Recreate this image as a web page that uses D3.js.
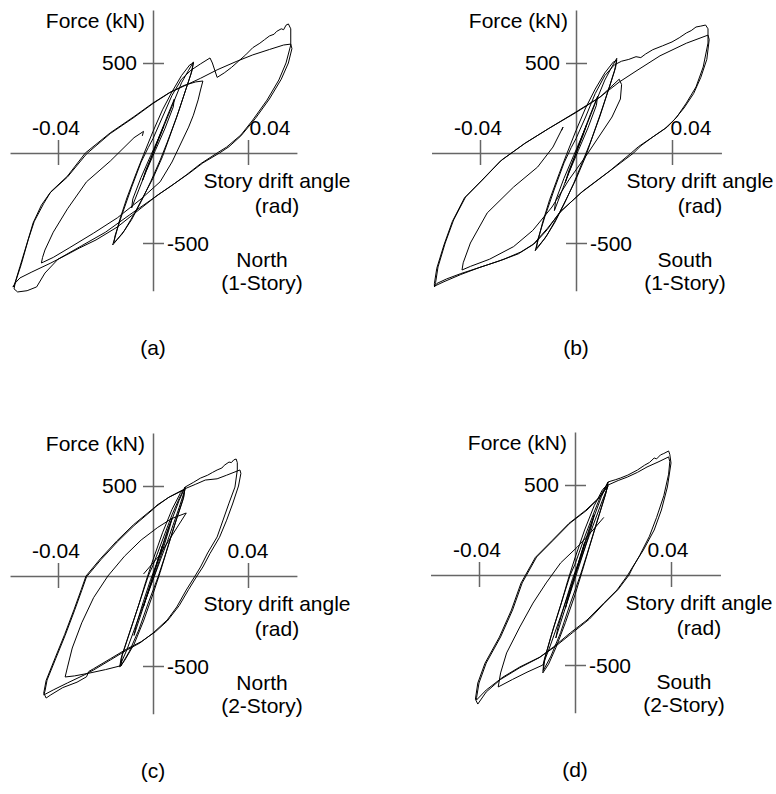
<!DOCTYPE html>
<html>
<head>
<meta charset="utf-8">
<script src="https://cdn.jsdelivr.net/npm/d3@7"></script>
<style>
body { margin: 0; background: #fff; }
svg text { font-family: "Liberation Sans", Arial, sans-serif; font-size: 21px; fill: #000; }
</style>
</head>
<body>
<svg id="chart" width="776" height="794"></svg>
<script>
// [story drift angle (rad), force (kN)]
const driftTicks = [-0.04, 0.04]
const forceTicks = [-500, 500]
const driftRange = [-0.0602, 0.0606]
const forceRange = [-765, 795]

const northOneSmall = [[0,0],[0.002,70],[0.0045,150],[0.003,95],[0,0],[-0.002,-70],[-0.0045,-155],[-0.003,-95],[0,0],
  [0.003,105],[0.006,205],[0.009,300],[0.0085,255],[0.005,135],[0.001,15],[-0.003,-105],[-0.006,-205],[-0.009,-305],[-0.0085,-255],[-0.005,-135],[-0.001,-15],
  [0.004,130],[0.008,260],[0.012,390],[0.015,460],[0.017,506],[0.0165,460],[0.014,360],[0.011,240],[0.007,90],[0.004,-20],[0,-140],[-0.004,-240],[-0.008,-340],[-0.012,-430],[-0.015,-480],[-0.017,-511],[-0.016,-470],[-0.014,-370],[-0.011,-250],[-0.007,-110],[-0.004,-10],
  [0,120],[0.004,240],[0.008,340],[0.012,430],[0.0155,490],[0.017,500],[0.016,440],[0.013,320],[0.010,200],[0.006,60],[0.003,-40],[-0.001,-160],[-0.005,-270],[-0.009,-370],[-0.013,-450],[-0.0165,-500],[-0.016,-460],[-0.013,-340],[-0.009,-190],[-0.005,-50],[-0.002,30],[0,80]]

const northOneLarge = [[0,80],[0.004,200],[0.008,320],[0.012,410],[0.016,460],[0.020,495],[0.024,528],[0.025,500],[0.026,460],[0.027,420],[0.030,445],[0.033,475],[0.036,510],[0.039,545],[0.042,585],[0.045,610],[0.047,630],[0.049,650],[0.051,660],[0.052,675],[0.054,690],[0.055,685],[0.056,710],[0.057,717],
  [0.058,690],[0.058,600],[0.056,500],[0.053,406],[0.048,294],[0.042,183],[0.037,100],[0.031,33],[0.027,0],
  [0.020,-60],[0.014,-122],[0.008,-180],[0.002,-233],[-0.005,-306],[-0.015,-411],[-0.024,-483],[-0.031,-528],[-0.037,-570],[-0.043,-611],[-0.051,-661],[-0.056,-694],[-0.058,-722],[-0.059,-744],
  [-0.0585,-740],[-0.056,-630],[-0.053,-500],[-0.0505,-389],[-0.047,-290],[-0.0434,-222],[-0.036,-133],[-0.028,-5],
  [-0.018,108],[-0.008,198],[0,275],[0.007,335],[0.014,378],[0.020,415],[0.027,462],[0.035,508],[0.042,545],[0.049,575],[0.055,600],[0.058,605],
  [0.0585,580],[0.057,500],[0.054,410],[0.049,300],[0.043,190],[0.037,95],[0.032,35],[0.028,0],
  [0.021,-55],[0.015,-115],[0.003,-225],[-0.010,-345],[-0.020,-440],[-0.030,-515],[-0.040,-590],[-0.0455,-667],[-0.049,-744],[-0.053,-765],[-0.057,-772],[-0.0585,-755],
  [-0.058,-720],[-0.0555,-620],[-0.0525,-480],[-0.050,-380],[-0.046,-280],[-0.043,-215],[-0.036,-128],[-0.0285,0],[-0.018,112],[-0.008,202],[0,278],[0.007,336],[0.013,375],[0.018,395],[0.021,400],
  [0.020,350],[0.019,295],[0.017,210],[0.015,144],[0.011,33],[0.008,-50],[0.003,-160],[-0.005,-255],[-0.015,-360],[-0.025,-445],[-0.035,-525],[-0.042,-580],[-0.046,-605],[-0.047,-611],
  [-0.0465,-580],[-0.0455,-539],[-0.042,-440],[-0.036,-310],[-0.028,-160],[-0.018,-45],[-0.008,85],[-0.004,120],[-0.0045,95]]

const southOneSmall = [[0,0],[0.002,75],[0.0045,160],[0.003,100],[0,0],[-0.002,-75],[-0.0045,-165],[-0.003,-100],[0,0],
  [0.003,110],[0.006,215],[0.009,315],[0.0085,265],[0.005,140],[0.001,15],[-0.003,-110],[-0.006,-215],[-0.009,-320],[-0.0085,-265],[-0.005,-140],[-0.001,-15],
  [0.004,140],[0.008,275],[0.012,405],[0.015,480],[0.017,526],[0.0165,475],[0.014,370],[0.011,250],[0.007,95],[0.004,-20],[0,-145],[-0.004,-255],[-0.008,-360],[-0.012,-455],[-0.015,-510],[-0.017,-543],[-0.016,-495],[-0.014,-390],[-0.011,-260],[-0.007,-115],[-0.004,-10],
  [0,125],[0.004,250],[0.008,355],[0.012,445],[0.0155,505],[0.017,515],[0.016,455],[0.013,330],[0.010,205],[0.006,60],[0.003,-40],[-0.001,-170],[-0.005,-285],[-0.009,-390],[-0.013,-475],[-0.0165,-530],[-0.016,-485],[-0.013,-355],[-0.009,-200],[-0.005,-55],[-0.002,30],[0,80]]

const southOneLarge = [[0,80],[0.004,200],[0.008,330],[0.012,430],[0.016,490],[0.019,510],[0.022,520],[0.025,535],[0.027,530],[0.029,550],[0.032,574],[0.036,595],[0.040,617],[0.043,640],[0.046,667],[0.048,680],[0.050,700],[0.052,705],[0.054,711],
  [0.055,690],[0.055,611],[0.053,478],[0.050,367],[0.046,278],[0.042,200],[0.038,144],[0.032,89],[0.027,40],[0.024,0],
  [0.013,-111],[0.002,-222],[-0.007,-333],[-0.012,-426],[-0.017,-500],[-0.023,-550],[-0.030,-590],[-0.037,-622],[-0.048,-670],[-0.054,-700],[-0.058,-725],[-0.059,-744],
  [-0.0585,-720],[-0.0575,-633],[-0.0545,-500],[-0.051,-372],[-0.046,-244],[-0.039,-150],[-0.031,-39],[-0.021,56],[-0.011,139],[0,228],[0.010,311],[0.018,394],[0.025,455],[0.035,540],[0.046,610],[0.055,655],
  [0.0555,630],[0.0545,520],[0.052,420],[0.049,330],[0.045,250],[0.041,185],[0.037,135],[0.031,80],[0.026,35],[0.023,0],
  [0.014,-100],[0.003,-210],[-0.006,-320],[-0.012,-420],[-0.018,-510],[-0.024,-560],[-0.032,-600],[-0.040,-635],[-0.048,-675],[-0.055,-715],[-0.059,-740],
  [-0.059,-725],[-0.058,-640],[-0.055,-510],[-0.0515,-380],[-0.0465,-250],[-0.0395,-155],[-0.0315,-45],[-0.0215,52],[-0.0115,135],[0,225],[0.010,310],[0.018,410],
  [0.019,380],[0.0185,300],[0.015,200],[0.010,100],[0.005,0],
  [-0.003,-150],[-0.010,-300],[-0.018,-430],[-0.026,-520],[-0.036,-590],[-0.044,-630],[-0.0475,-650],
  [-0.047,-610],[-0.044,-500],[-0.037,-333],[-0.026,-189],[-0.016,-78],[-0.0096,33],[-0.0054,144],[-0.006,125]]

const northTwoSmall = [[0,0],[0.002,90],[0.004,170],[0.003,120],[0,0],[-0.002,-90],[-0.004,-170],[-0.003,-120],[0,0],
  [0.003,130],[0.006,250],[0.008,320],[0.007,270],[0.004,140],[0.001,20],[-0.003,-130],[-0.006,-250],[-0.008,-330],[-0.007,-270],[-0.004,-140],[-0.001,-20],
  [0.003,120],[0.007,280],[0.011,420],[0.0135,494],[0.013,440],[0.010,320],[0.006,150],[0.003,20],[0,-100],[-0.004,-250],[-0.008,-380],[-0.012,-470],[-0.014,-506],[-0.0135,-460],[-0.010,-320],[-0.006,-160],[-0.003,-30],
  [0,90],[0.004,240],[0.008,370],[0.0115,460],[0.0135,490],[0.0125,420],[0.009,280],[0.005,110],[0.002,-10],[-0.002,-150],[-0.006,-300],[-0.010,-420],[-0.0135,-500],[-0.013,-440],[-0.009,-280],[-0.005,-120],[-0.002,0],[0,60]]

const northTwoLarge = [[0,60],[0.004,200],[0.008,340],[0.011,430],[0.0135,494],[0.017,520],[0.020,544],[0.023,560],[0.025,575],[0.027,589],[0.029,600],[0.030,615],[0.032,633],[0.033,630],[0.034,645],[0.035,650],
  [0.0355,630],[0.0355,589],[0.0345,494],[0.032,405],[0.0295,311],[0.027,217],[0.023,128],[0.020,50],[0.0177,0],
  [0.014,-78],[0.010,-172],[0.006,-244],[0,-317],[-0.0055,-372],[-0.011,-411],[-0.018,-467],[-0.025,-522],[-0.029,-550],[-0.036,-594],[-0.042,-633],[-0.046,-661],
  [-0.0455,-640],[-0.0446,-578],[-0.041,-460],[-0.037,-330],[-0.033,-190],[-0.030,-80],[-0.028,-5],[-0.022,90],[-0.015,190],[-0.008,280],[0,370],[0.0017,394],[0.007,440],[0.0135,485],[0.018,510],[0.022,533],[0.027,540],[0.031,560],[0.0366,589],
  [0.037,570],[0.036,500],[0.0335,400],[0.031,310],[0.028,215],[0.024,125],[0.021,50],[0.0185,0],
  [0.015,-75],[0.011,-165],[0.006,-250],[0.001,-310],[-0.005,-365],[-0.011,-405],[-0.018,-460],[-0.025,-515],[-0.027,-530],[-0.028,-560],[-0.032,-590],[-0.038,-620],[-0.043,-660],[-0.045,-678],
  [-0.046,-650],[-0.045,-580],[-0.0412,-455],[-0.0372,-325],[-0.0332,-185],[-0.0302,-75],[-0.0282,0],[-0.0222,95],[-0.0152,195],[-0.0082,285],[-0.0002,372],[0.0065,436],[0.0135,482],
  [0.011,380],[0.006,190],[0,-20],[-0.006,-230],[-0.011,-410],[-0.014,-500],[-0.020,-520],[-0.027,-540],[-0.033,-555],[-0.037,-561],
  [-0.036,-506],[-0.034,-400],[-0.030,-260],[-0.025,-120],[-0.019,0],[-0.012,110],[-0.005,200],[0.002,270],[0.008,320],[0.014,350],
  [0.0025,111],[-0.004,11]]

const southTwoSmall = [[0,0],[0.002,95],[0.004,180],[0.003,125],[0,0],[-0.002,-95],[-0.004,-185],[-0.003,-125],[0,0],
  [0.003,135],[0.006,260],[0.008,335],[0.007,280],[0.004,145],[0.001,20],[-0.003,-140],[-0.006,-265],[-0.008,-350],[-0.007,-285],[-0.004,-150],[-0.001,-20],
  [0.003,125],[0.007,290],[0.011,435],[0.0138,517],[0.013,460],[0.010,330],[0.006,155],[0.003,20],[0,-110],[-0.004,-265],[-0.008,-405],[-0.011,-495],[-0.0134,-544],[-0.013,-480],[-0.010,-340],[-0.006,-170],[-0.003,-30],
  [0,95],[0.004,250],[0.008,385],[0.0115,475],[0.0138,505],[0.0125,440],[0.009,290],[0.005,115],[0.002,-10],[-0.002,-160],[-0.006,-320],[-0.010,-450],[-0.0132,-530],[-0.0125,-460],[-0.009,-295],[-0.005,-125],[-0.002,0],[0,60]]

const southTwoLarge = [[0,60],[0.004,210],[0.008,350],[0.011,450],[0.0138,517],[0.017,530],[0.019,539],[0.022,555],[0.026,583],[0.029,610],[0.031,625],[0.033,650],[0.034,645],[0.0356,667],[0.037,675],[0.039,689],
  [0.0395,670],[0.040,622],[0.0385,489],[0.036,361],[0.033,250],[0.0285,139],[0.024,44],[0.022,0],
  [0.0175,-83],[0.012,-156],[0.005,-250],[-0.002,-322],[-0.009,-400],[-0.0146,-456],[-0.023,-511],[-0.030,-567],[-0.037,-639],[-0.041,-694],
  [-0.041,-680],[-0.040,-600],[-0.037,-489],[-0.031,-344],[-0.026,-194],[-0.022,-44],[-0.016,100],[-0.009,194],[-0.002,289],[0.005,361],[0.0105,433],[0.0138,500],[0.018,525],[0.0218,544],[0.026,570],[0.030,600],[0.035,630],[0.039,656],
  [0.0395,630],[0.039,560],[0.037,440],[0.034,320],[0.031,215],[0.027,110],[0.024,40],[0.0225,0],
  [0.018,-80],[0.012,-160],[0.006,-245],[-0.001,-320],[-0.008,-395],[-0.015,-460],[-0.023,-515],[-0.031,-580],[-0.037,-650],[-0.0405,-717],
  [-0.0415,-690],[-0.0405,-600],[-0.0375,-490],[-0.0315,-345],[-0.0265,-195],[-0.0225,-45],[-0.0165,98],[-0.0095,192],[-0.0025,287],[0.0045,360],[0.010,430],[0.0138,495],
  [0.011,400],[0.006,220],[0,0],[-0.006,-230],[-0.0105,-400],[-0.0134,-500],[-0.020,-540],[-0.026,-580],[-0.032,-622],
  [-0.031,-544],[-0.0285,-433],[-0.023,-289],[-0.0175,-156],[-0.012,-44],[-0.006,67],[0.001,156],[0.0075,250],[0.012,320]]

const panels = [
  { tag: '(a)', side: 'North', story: '(1-Story)', ox: 153, oy: 153, px: 95, lab04: 22, curves: [northOneSmall, northOneLarge] },
  { tag: '(b)', side: 'South', story: '(1-Story)', ox: 576, oy: 153, px: 96, lab04: 19, curves: [southOneSmall, southOneLarge] },
  { tag: '(c)', side: 'North', story: '(2-Story)', ox: 153, oy: 576, px: 95, lab04: 0, curves: [northTwoSmall, northTwoLarge] },
  { tag: '(d)', side: 'South', story: '(2-Story)', ox: 575, oy: 575, px: 96, lab04: -3, curves: [southTwoSmall, southTwoLarge] }
]

const svg = d3.select('#chart')

panels.forEach(p => {
  const g = svg.append('g')
  const x = d3.scaleLinear().domain([-0.04, 0.04]).range([p.ox - p.px, p.ox + p.px])
  const y = d3.scaleLinear().domain([-500, 500]).range([p.oy + 90, p.oy - 90])

  // axes cross at the origin, ticks cross the axis line
  const xAxisScale = d3.scaleLinear().domain(driftRange).range(driftRange.map(x))
  const yAxisScale = d3.scaleLinear().domain(forceRange).range(forceRange.map(y))

  const gx = g.append('g')
    .attr('transform', `translate(0,${y(0)})`)
    .call(d3.axisBottom(xAxisScale).tickValues(driftTicks).tickSizeInner(12).tickSizeOuter(0).tickFormat(''))
  gx.selectAll('.tick line').attr('y1', -13)

  const gy = g.append('g')
    .attr('transform', `translate(${x(0)},0)`)
    .call(d3.axisRight(yAxisScale).tickValues(forceTicks).tickSizeInner(11).tickSizeOuter(0).tickFormat(''))
  gy.selectAll('.tick line').attr('x1', -10)

  g.selectAll('.domain, .tick line').attr('stroke', '#666').attr('stroke-width', 1.5)

  const line = d3.line()
    .x(d => x(d[0]))
    .y(d => y(d[1]))

  g.selectAll('path.curve')
    .data(p.curves)
    .join('path')
    .attr('class', 'curve')
    .attr('d', line)
    .attr('fill', 'none')
    .attr('stroke', '#000')
    .attr('stroke-width', 1)
    .attr('stroke-linejoin', 'round')

  // labels
  g.append('text').attr('x', x(0) - 8).attr('y', y(0) - 125).attr('text-anchor', 'end').text('Force (kN)')
  g.append('text').attr('x', x(0) - 16).attr('y', y(500) + 7).attr('text-anchor', 'end').text('500')
  g.append('text').attr('x', x(0) + 14).attr('y', y(-500) + 8).text('-500')
  g.append('text').attr('x', x(-0.04) - 2).attr('y', y(0) - 18).attr('text-anchor', 'middle').text('-0.04')
  g.append('text').attr('x', x(0.04) + p.lab04).attr('y', y(0) - 18).attr('text-anchor', 'middle').text('0.04')
  g.append('text').attr('x', x(0) + 124).attr('y', y(0) + 35).attr('text-anchor', 'middle').text('Story drift angle')
  g.append('text').attr('x', x(0) + 124).attr('y', y(0) + 60).attr('text-anchor', 'middle').text('(rad)')
  g.append('text').attr('x', x(0) + 109).attr('y', y(0) + 114).attr('text-anchor', 'middle').text(p.side)
  g.append('text').attr('x', x(0) + 109).attr('y', y(0) + 137).attr('text-anchor', 'middle').text(p.story)
  g.append('text').attr('x', x(0)).attr('y', y(0) + 202).attr('text-anchor', 'middle').text(p.tag)
})
</script>
</body>
</html>
